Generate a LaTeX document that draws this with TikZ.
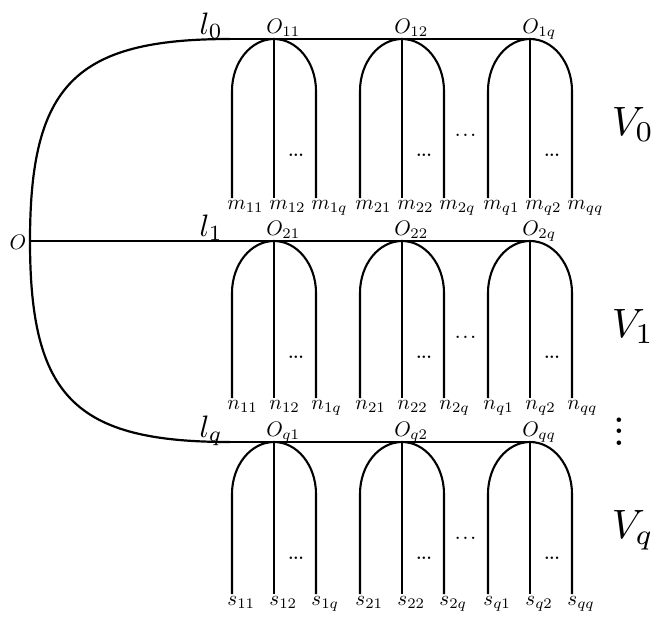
\documentclass[tikz,border=0pt]{standalone}
\begin{document}
\begin{tikzpicture}[x=1pt,y=-1pt,
  lbl/.style={inner sep=0pt,scale=2.1},
  midlbl/.style={inner sep=0pt,scale=3.1},
  biglbl/.style={inner sep=0pt,scale=4.1},
  sdots/.style={inner sep=0pt,scale=1.6,font=\bfseries},
  dotslbl/.style={inner sep=0pt,scale=1.5,font=\boldmath},
  archline/.style={line width=2.1pt},
  axisline/.style={line width=1.5pt},
  stemline/.style={line width=1.3pt},
  mainline/.style={line width=2.2pt}]
\useasboundingbox (0,0) rectangle (651,619);
% origin and the three branches
\coordinate (O) at (30,241);
\coordinate (e0) at (230,39);
\coordinate (e2) at (230,442);
\coordinate (end0) at (530,39);
\coordinate (end1) at (530,241);
\coordinate (end2) at (530,442);
\node[lbl] (Olab) at (18,242) {$O$};
\draw[mainline] (O) .. controls (30,85) and (75,39) .. (e0);
\draw[mainline] (O) .. controls (30,397) and (75,442) .. (e2);
\draw[axisline] (e0) -- (end0);
\draw[axisline] (O) -- (end1);
\draw[axisline] (e2) -- (end2);
% rows
\foreach \r/\y/\yb/\L/\R/\V in {0/39/198/m/1/0, 1/241/398/n/2/1, 2/442/594/s/q/q} {
  \node[midlbl,anchor=base west] (l\r) at (199,\y-5) {$l_\V$};
  \node[biglbl,anchor=base west] (V\r) at (611,\y+96) {$V_\V$};
  \node[dotslbl] (hd\r) at (465.5,\y+96) {$\ldots$};
  \foreach \g/\cx/\G in {1/274/1, 2/402/2, 3/530/q} {
    \coordinate (t\r\g) at (\cx,\y);
    \coordinate (b\r\g) at (\cx,\yb);
    \coordinate (bl\r\g) at (\cx-42,\yb);
    \coordinate (br\r\g) at (\cx+42,\yb);
    \draw[archline] (bl\r\g) -- (\cx-42,\y+52)
      .. controls (\cx-42,\y+23.3) and (\cx-23.2,\y) .. (t\r\g)
      .. controls (\cx+23.2,\y) and (\cx+42,\y+23.3) .. (\cx+42,\y+52)
      -- (br\r\g);
    \draw[stemline] (t\r\g) -- (b\r\g);
    \node[lbl,anchor=base west] (o\r\g) at (\cx-8,\y-6) {$O_{\R\G}$};
    \node[sdots] (sd\r\g) at (\cx+22,\y+116) {...};
    \node[lbl,anchor=north west] (la\r\g) at (\cx-47,\yb+2) {$\L_{\G 1}$};
    \node[lbl,anchor=north west] (lb\r\g) at (\cx-5,\yb+2) {$\L_{\G 2}$};
    \node[lbl,anchor=north west] (lc\r\g) at (\cx+37,\yb+2) {$\L_{\G q}$};
  }
}
\node[inner sep=0pt,scale=2.9,anchor=south,font=\bfseries] (vd) at (619,446) {$\vdots$};
\end{tikzpicture}
\end{document}
